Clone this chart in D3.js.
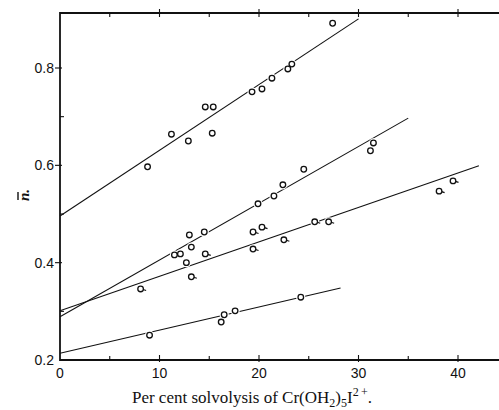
<!DOCTYPE html>
<html>
<head>
<meta charset="utf-8">
<script src="https://cdn.jsdelivr.net/npm/d3@7"></script>
<style>
  body { margin: 0; background: #fff; }
  svg { display: block; }
  .fit { stroke: #111; stroke-width: 1.1; fill: none; }
  .pt { fill: #fff; stroke: #111; stroke-width: 1.3; }
  .tick-lbl { font-family: "Liberation Sans", Arial, sans-serif; font-size: 14px; fill: #111; }
</style>
</head>
<body>
<div id="chart"></div>
<script>
// values
var xTicks = [0, 10, 20, 30, 40]
var xMinor = [5, 15, 25, 35]
var yTicks = [0.2, 0.4, 0.6, 0.8]
var yMinor = [0.3, 0.5, 0.7]

// top group
var topPts = [[8.8, 0.597], [11.2, 0.664], [12.9, 0.650], [14.6, 0.720], [15.4, 0.720],
  [15.3, 0.666], [19.3, 0.751], [20.3, 0.757], [21.3, 0.779], [22.9, 0.798],
  [23.3, 0.808], [27.4, 0.892]]
var topLine = [[0, 0.496], [30.0, 0.901]]

// steeper middle group
var upperPts = [[11.5, 0.416], [12.1, 0.418], [13.0, 0.457], [13.2, 0.432], [14.5, 0.463],
  [12.7, 0.400], [19.9, 0.521], [21.5, 0.537], [22.4, 0.560], [24.5, 0.592],
  [31.2, 0.630], [31.5, 0.646]]
var upperLine = [[0, 0.289], [35.0, 0.697]]

// shallower middle group (circles drawn with a small tail)
var lowerPts = [[8.1, 0.346], [13.2, 0.371], [14.6, 0.418], [19.4, 0.428], [19.4, 0.463],
  [20.3, 0.473], [22.5, 0.447], [25.6, 0.484], [27.0, 0.484], [38.1, 0.547], [39.5, 0.568]]
var lowerLine = [[0, 0.301], [42.1, 0.599]]

// bottom group
var bottomPts = [[9.0, 0.251], [16.2, 0.278], [16.5, 0.293], [17.6, 0.301], [24.2, 0.329]]
var bottomLine = [[0, 0.214], [28.2, 0.348]]

var width = 499, height = 410

var x = d3.scaleLinear().domain([0, 40]).range([60, 458])
var y = d3.scaleLinear().domain([0.2, 0.8]).range([360, 68])
var yMax = y.invert(13)

var svg = d3.select("#chart").append("svg")
  .attr("width", width)
  .attr("height", height)

// fitted lines
var line = d3.line()
  .x(function(d) { return x(d[0]) })
  .y(function(d) { return y(d[1]) })

var lines = [topLine, upperLine, lowerLine, bottomLine]
lines.forEach(function(l) {
  svg.append("path").datum(l).attr("class", "fit").attr("d", line)
})

// points, with a white halo so the lines break around them
function drawPts(data, tail) {
  var g = svg.append("g")
  g.selectAll("circle.halo").data(data).enter().append("circle")
    .attr("cx", function(d) { return x(d[0]) })
    .attr("cy", function(d) { return y(d[1]) })
    .attr("r", 4.6)
    .attr("fill", "#fff")
  if (tail) {
    g.selectAll("line.tail").data(data).enter().append("line")
      .attr("x1", function(d) { return x(d[0]) + 2.5 })
      .attr("y1", function(d) { return y(d[1]) + 0.5 })
      .attr("x2", function(d) { return x(d[0]) + 5.5 })
      .attr("y2", function(d) { return y(d[1]) + 1.5 })
      .attr("stroke", "#111")
      .attr("stroke-width", 1.2)
  }
  g.selectAll("circle.pt").data(data).enter().append("circle")
    .attr("class", "pt")
    .attr("cx", function(d) { return x(d[0]) })
    .attr("cy", function(d) { return y(d[1]) })
    .attr("r", 2.8)
}
drawPts(topPts, false)
drawPts(upperPts, false)
drawPts(lowerPts, true)
drawPts(bottomPts, false)

// frame
svg.append("line").attr("x1", x(0)).attr("x2", width).attr("y1", y(0.2)).attr("y2", y(0.2))
  .attr("stroke", "#111").attr("stroke-width", 2.2)
svg.append("line").attr("x1", x(0)).attr("x2", width).attr("y1", y(yMax)).attr("y2", y(yMax))
  .attr("stroke", "#111").attr("stroke-width", 2.2)
svg.append("line").attr("x1", x(0)).attr("x2", x(0)).attr("y1", y(yMax) - 1).attr("y2", y(0.2) + 1)
  .attr("stroke", "#111").attr("stroke-width", 1.8)

// ticks
var tk = svg.append("g").attr("stroke", "#111").attr("stroke-width", 1.1)
xTicks.slice(1).forEach(function(v) {
  tk.append("line").attr("x1", x(v)).attr("x2", x(v)).attr("y1", y(0.2) - 5).attr("y2", y(0.2) + 2)
  tk.append("line").attr("x1", x(v)).attr("x2", x(v)).attr("y1", y(yMax) - 4).attr("y2", y(yMax) + 4)
})
xMinor.forEach(function(v) {
  tk.append("line").attr("x1", x(v)).attr("x2", x(v)).attr("y1", y(0.2) - 4).attr("y2", y(0.2))
  tk.append("line").attr("x1", x(v)).attr("x2", x(v)).attr("y1", y(yMax)).attr("y2", y(yMax) + 4)
})
yTicks.slice(1).forEach(function(v) {
  tk.append("line").attr("x1", x(0) - 5).attr("x2", x(0) + 2).attr("y1", y(v)).attr("y2", y(v))
})
yMinor.forEach(function(v) {
  tk.append("line").attr("x1", x(0)).attr("x2", x(0) + 4).attr("y1", y(v)).attr("y2", y(v))
})

// tick labels
svg.selectAll("text.xl").data(xTicks).enter().append("text")
  .attr("class", "tick-lbl")
  .attr("x", function(d) { return x(d) })
  .attr("y", y(0.2) + 18)
  .attr("text-anchor", "middle")
  .text(function(d) { return d })

svg.selectAll("text.yl").data(yTicks).enter().append("text")
  .attr("class", "tick-lbl")
  .attr("x", x(0) - 6)
  .attr("y", function(d) { return y(d) + 5 })
  .attr("text-anchor", "end")
  .text(function(d) { return d.toFixed(1) })

// axis titles
svg.append("text")
  .attr("x", 252)
  .attr("y", 403)
  .attr("text-anchor", "middle")
  .attr("font-family", "Liberation Serif, 'Times New Roman', serif")
  .attr("font-size", 17)
  .attr("fill", "#111")
  .html("Per cent solvolysis of Cr(OH<tspan font-size='12' dy='4'>2</tspan><tspan dy='-4'>)</tspan><tspan font-size='12' dy='4'>5</tspan><tspan dy='-4'>I</tspan><tspan font-size='12' dy='-7'>2\u2009+</tspan><tspan dy='7'>.</tspan>")

// y title: n with a bar, rotated
var yt = svg.append("g").attr("transform", "translate(29,195) rotate(-90)")
yt.append("text")
  .attr("text-anchor", "middle")
  .attr("font-family", "Liberation Serif, serif")
  .attr("font-weight", "bold")
  .attr("font-style", "italic")
  .attr("font-size", 15)
  .attr("fill", "#111")
  .text("n.")
yt.append("line")
  .attr("x1", -5).attr("x2", 3)
  .attr("y1", -11).attr("y2", -11)
  .attr("stroke", "#111").attr("stroke-width", 1.4)
</script>
</body>
</html>
